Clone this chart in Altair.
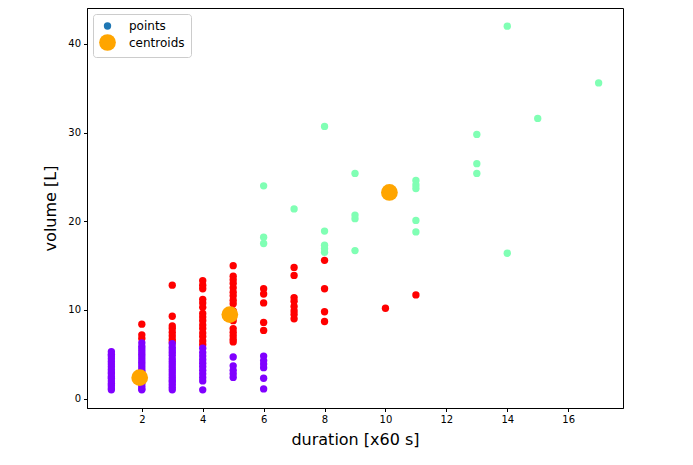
import altair as alt
import pandas as pd

# k-means result: duration (minutes) vs. volume (litres), three clusters
low_cluster = [
    (1, [1.0, 1.2, 1.5, 1.7, 2.0, 2.3, 2.5, 2.8, 3.0, 3.3, 3.6, 3.9, 4.2, 4.5, 4.8, 5.0, 5.3]),
    (2, [1.0, 1.1, 1.4, 1.7, 1.9, 2.2, 2.4, 2.7, 3.0, 3.2, 3.5, 3.8, 4.1, 4.4, 4.7, 5.0, 5.3, 5.6, 5.9, 6.3]),
    (3, [1.0, 1.3, 1.6, 1.9, 2.1, 2.4, 2.7, 3.0, 3.3, 3.6, 3.9, 4.2, 4.5, 4.9, 5.2, 5.5, 5.8, 6.2]),
    (4, [1.0, 2.0, 2.4, 2.8, 3.2, 3.6, 4.0, 4.4, 4.8, 5.2, 5.7]),
    (5, [2.4, 2.8, 3.2, 3.7, 4.7]),
    (6, [1.1, 2.3, 3.5, 3.9, 4.3, 4.8]),
]
mid_cluster = [
    (2, [8.4, 7.2, 6.8]),
    (3, [12.8, 9.3, 8.2, 7.9, 7.5, 7.1, 6.7, 6.4]),
    (4, [13.3, 12.8, 12.4, 11.2, 10.8, 10.3, 9.6, 9.2, 8.8, 8.3, 7.9, 7.4, 7.0, 6.5, 6.1]),
    (5, [15.0, 13.8, 13.4, 13.0, 12.5, 12.0, 11.6, 11.1, 10.7, 9.9, 9.3, 8.8, 7.9, 7.5, 7.1, 6.7, 6.4]),
    (6, [12.4, 11.8, 10.8, 8.6, 7.7]),
    (7, [14.8, 13.9, 11.4, 11.0, 10.4, 9.9, 9.5, 9.0]),
    (8, [15.6, 12.4, 9.8, 8.7]),
    (10, [10.2]),
    (11, [11.7]),
]
high_cluster = [
    (6, [24.0, 18.2, 17.5]),
    (7, [21.4]),
    (8, [30.7, 18.9, 17.3, 16.9, 16.5]),
    (9, [25.4, 20.7, 20.3, 16.7]),
    (11, [24.6, 24.1, 23.7, 20.1, 18.8]),
    (13, [29.8, 26.5, 25.4]),
    (14, [42.0, 16.4]),
    (15, [31.6]),
    (17, [35.6]),
]
centroid_duration = [1.93, 4.89, 10.13]
centroid_volume = [2.37, 9.48, 23.25]

x_ticks = [2, 4, 6, 8, 10, 12, 14, 16]
y_ticks = [0, 10, 20, 30, 40]

rows = []
for name, cluster in [("mid", mid_cluster), ("high", high_cluster), ("low", low_cluster)]:
    for dur, vols in cluster:
        for v in vols:
            rows.append({"duration": dur, "volume": v, "group": name})
points = pd.DataFrame(rows)
points["order"] = range(len(points))
centroids = pd.DataFrame({"duration": centroid_duration,
                          "volume": centroid_volume,
                          "group": "centroids"})

groups = ["points", "centroids", "low", "mid", "high"]
color_scale = alt.Scale(domain=groups,
                        range=["#1f77b4", "#ffa500", "#8000ff", "#ff0000", "#80ffb4"])
size_scale = alt.Scale(type="ordinal", domain=groups, range=[54, 280, 54, 54, 54])
legend = alt.Legend(title=None, values=["points", "centroids"])

x_enc = alt.X("duration:Q", title="duration [x60 s]",
              scale=alt.Scale(domain=[0.2, 17.8], nice=False, zero=False),
              axis=alt.Axis(values=x_ticks))
y_enc = alt.Y("volume:Q", title="volume [L]",
              scale=alt.Scale(domain=[-1.05, 44.05], nice=False, zero=False),
              axis=alt.Axis(values=y_ticks))

pts = alt.Chart(points).mark_circle(opacity=1).encode(
    x=x_enc, y=y_enc,
    color=alt.Color("group:N", scale=color_scale, legend=legend),
    size=alt.Size("group:N", scale=size_scale, legend=legend),
    order=alt.Order("order:Q"),
)
cents = alt.Chart(centroids).mark_circle(opacity=1).encode(
    x=x_enc, y=y_enc,
    color=alt.Color("group:N", scale=color_scale, legend=legend),
    size=alt.Size("group:N", scale=size_scale, legend=legend),
)

chart = (
    alt.layer(pts, cents)
    .properties(width=536, height=400,
                padding={"left": 87, "top": 8, "right": 70, "bottom": 57},
                autosize=alt.AutoSizeParams(type="none"))
    .configure(font="DejaVu Sans", background="white")
    .configure_view(stroke="black", strokeWidth=1)
    .configure_axis(grid=False, domainColor="black", tickColor="black",
                    tickSize=3.5, labelFontSize=10, labelColor="black",
                    labelPadding=3, titleFontSize=16, titleFontWeight="normal",
                    titleColor="black")
    .configure_axisX(titlePadding=7)
    .configure_axisY(titlePadding=9)
    .configure_legend(orient="top-left", offset=6, padding=6,
                      strokeColor="#cccccc", fillColor="white", cornerRadius=3,
                      labelFontSize=12, labelColor="black", rowPadding=2,
                      symbolType="circle", symbolStrokeWidth=0, labelOffset=13)
)

chart.save("out.html", embed_options={"renderer": "svg", "actions": False})
